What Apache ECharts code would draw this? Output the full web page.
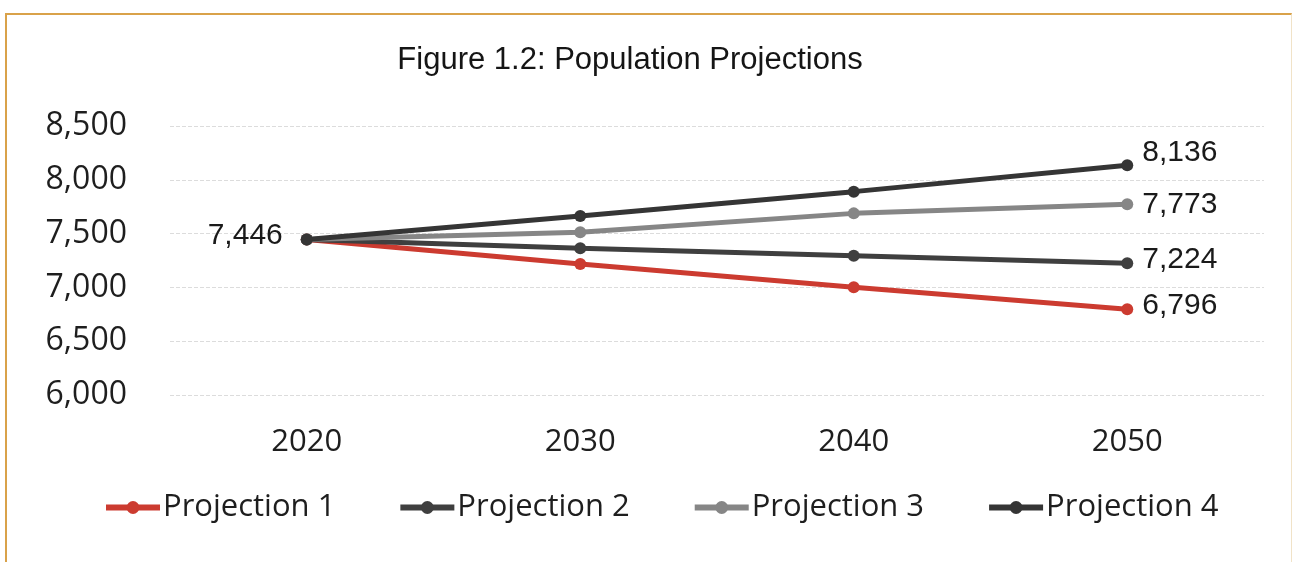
<!DOCTYPE html>
<html>
<head>
<meta charset="utf-8">
<script src="https://cdn.jsdelivr.net/npm/echarts@6/dist/echarts.min.js"></script>
<style>
	html, body { margin: 0; padding: 0; background: #fff; }
	#frame { position: absolute; left: 5px; top: 13px; width: 1284px; height: 560px;
		border-top: 2px solid #d9a24a; border-left: 2px solid #d9a24a; border-right: 1px solid #f1e3c8; }
	#chart { position: absolute; left: 0; top: 0; width: 1296px; height: 562px; }
</style>
</head>
<body>
<div id="frame"></div>
<div id="chart"></div>
<script>
// 연도
var years = ['2020', '2030', '2040', '2050'];

// 시나리오별 인구 추계
var projection1 = [7446, 7217, 7001, 6796];
var projection2 = [7446, 7363, 7295, 7224];
var projection3 = [7446, 7512, 7688, 7773];
var projection4 = [7446, 7664, 7890, 8136];

var seriesNames = ['Projection 1', 'Projection 2', 'Projection 3', 'Projection 4'];
var seriesColors = ['#cc3b30', '#3f3f3f', '#868686', '#353535'];

// y축 눈금
var yMin = 6000, yMax = 8500, yStep = 500;

// 천 단위 콤마
function numberWithCommas(x) {
	return x.toString().replace(/\B(?=(\d{3})+(?!\d))/g, ",");
}

// 마지막 값(그리고 첫 값 하나)에만 라벨 표시
function buildData(values, endOffset, showFirst) {
	return values.map(function(v, i) {
		var item = { value: v };
		if (i === values.length - 1) {
			item.label = { show: true, position: 'right', distance: 9, offset: endOffset };
		} else if (i === 0 && showFirst) {
			item.label = { show: true, position: 'left', distance: 18, offset: [0, -4] };
		}
		return item;
	});
}

var allValues = [projection1, projection2, projection3, projection4];
var endOffsets = [[0, -4], [0, -4], [0, 1], [0, -12]];

var series = allValues.map(function(vals, i) {
	return {
		name: seriesNames[i],
		type: 'line',
		data: buildData(vals, endOffsets[i], i === 3),
		symbol: 'circle',
		symbolSize: 12,
		lineStyle: { width: 5, color: seriesColors[i] },
		itemStyle: { color: seriesColors[i] },
		label: {
			show: false,
			formatter: function(p) { return numberWithCommas(p.value); },
			fontFamily: 'Liberation Sans, Arial, sans-serif',
			fontSize: 30,
			color: '#1a1a1a'
		},
		z: i === 0 ? 1 : 2 + i
	};
});

var chart = echarts.init(document.getElementById('chart'));
var option = {
	animation: false,
	title: {
		text: 'Figure 1.2: Population Projections',
		left: 625,
		top: 40,
		textAlign: 'center',
		textStyle: {
			fontFamily: 'Liberation Sans, Arial, sans-serif',
			fontSize: 31,
			fontWeight: 'normal',
			color: '#151515'
		}
	},
	legend: {
		data: seriesNames,
		bottom: 34,
		left: 98,
		itemWidth: 54,
		itemHeight: 16,
		itemGap: 62,
		lineStyle: { width: 6 },
		textStyle: {
			fontFamily: 'Open Sans, sans-serif',
			fontSize: 31,
			color: '#1e1e1e',
			padding: [0, 0, 0, -2]
		}
	},
	grid: {
		left: 170,
		right: 32,
		top: 126,
		bottom: 167,
		containLabel: false
	},
	xAxis: {
		type: 'category',
		data: years,
		boundaryGap: true,
		axisLine: { show: false },
		axisTick: { show: false },
		axisLabel: {
			margin: 32,
			fontFamily: 'Open Sans, sans-serif',
			fontSize: 31,
			color: '#1e1e1e'
		}
	},
	yAxis: {
		type: 'value',
		min: yMin,
		max: yMax,
		interval: yStep,
		axisLine: { show: false },
		axisTick: { show: false },
		splitLine: { lineStyle: { color: '#dcdcdc', type: 'dashed', width: 1 } },
		axisLabel: {
			margin: 43,
			fontFamily: 'Open Sans, sans-serif',
			fontSize: 32,
			color: '#1e1e1e',
			formatter: function(v) { return numberWithCommas(v); }
		}
	},
	series: series
};
chart.setOption(option);
</script>
</body>
</html>
